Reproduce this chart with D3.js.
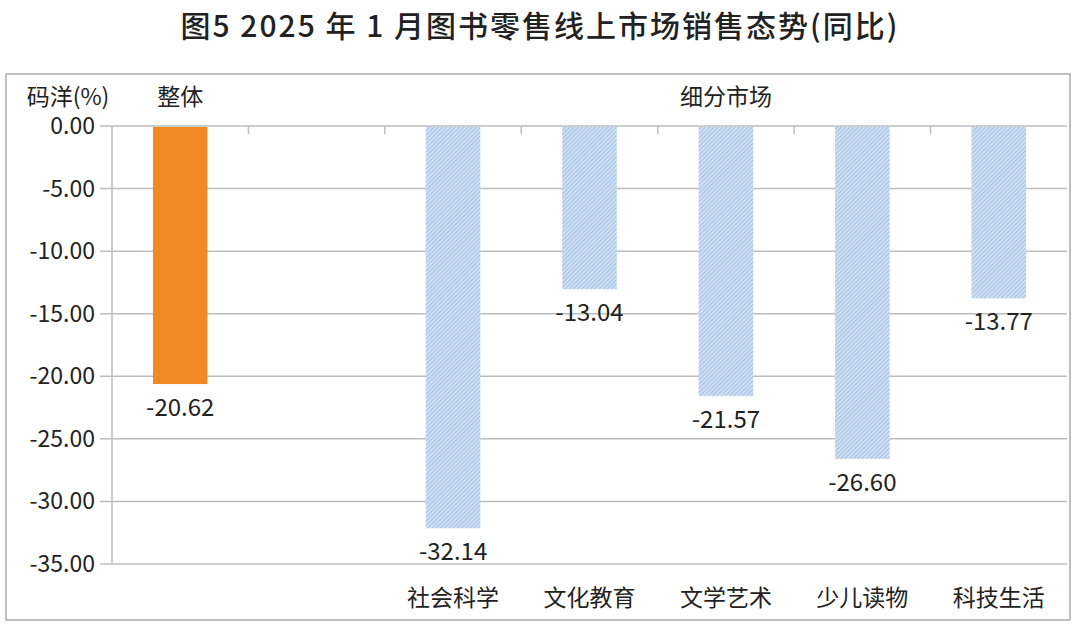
<!DOCTYPE html>
<html><head><meta charset="utf-8">
<script src="https://cdn.jsdelivr.net/npm/d3@7"></script>
<style>body{margin:0;background:#fff}text{font-family:"Noto Sans CJK SC","Noto Sans",sans-serif}</style>
</head><body><svg id="c" width="1080" height="628"></svg>
<script>
const categories = ["整体", "", "社会科学", "文化教育", "文学艺术", "少儿读物", "科技生活"];
const values = [-20.62, null, -32.14, -13.04, -21.57, -26.60, -13.77];
const yTicks = [0, -5, -10, -15, -20, -25, -30, -35];
const title = "图5  2025 年 1 月图书零售线上市场销售态势(同比)";

const svg = d3.select("#c");
const defs = svg.append("defs");
const pat = defs.append("pattern").attr("id","hatch").attr("patternUnits","userSpaceOnUse")
  .attr("width",3).attr("height",3).attr("patternTransform","rotate(45)");
pat.append("rect").attr("width",3).attr("height",3).attr("fill","#dbe7f5");
pat.append("rect").attr("width",1.6).attr("height",3).attr("fill","#a9c6e8");

svg.append("text").attr("x",540).attr("y",37).attr("text-anchor","middle")
  .attr("font-size",30).attr("font-weight",500).attr("letter-spacing",2).attr("fill","#222").text(title);
svg.append("rect").attr("x",6).attr("y",74).attr("width",1064).attr("height",546)
  .attr("fill","none").attr("stroke","#aaa").attr("stroke-width",1.5);

const x = d3.scaleBand().domain(d3.range(categories.length)).range([112,1067]).paddingInner(0.6).paddingOuter(0.3);
const y = d3.scaleLinear().domain([-35,0]).range([564,126]);

svg.append("g").selectAll("line").data(yTicks).join("line")
  .attr("x1",100).attr("x2",1067).attr("y1",d=>y(d)).attr("y2",d=>y(d))
  .attr("stroke","#bdbdbd").attr("stroke-width",1.5);
svg.append("line").attr("x1",112).attr("x2",112).attr("y1",y(0)).attr("y2",y(-35)).attr("stroke","#bdbdbd").attr("stroke-width",1.5);
svg.append("g").selectAll("text").data(yTicks).join("text")
  .attr("x",95).attr("y",d=>y(d)+8).attr("text-anchor","end").attr("font-size",23).attr("fill","#222")
  .text(d=>d.toFixed(2));
const step = x.step();
svg.append("g").selectAll("line").data(d3.range(1,categories.length)).join("line")
  .attr("x1",d=>x(d)-(step-x.bandwidth())/2).attr("x2",d=>x(d)-(step-x.bandwidth())/2)
  .attr("y1",y(0)).attr("y2",y(0)+8).attr("stroke","#bdbdbd").attr("stroke-width",1.5);

const data = values.map((v,i)=>({v,i})).filter(d=>d.v!==null);
svg.append("g").selectAll("rect").data(data).join("rect")
  .attr("x",d=>x(d.i)).attr("width",x.bandwidth())
  .attr("y",y(0)+1).attr("height",d=>y(d.v)-y(0)-1)
  .attr("fill",d=>d.i===0?"#f08a24":"url(#hatch)");
svg.append("g").selectAll("text").data(data).join("text")
  .attr("x",d=>x(d.i)+x.bandwidth()/2).attr("y",d=>y(d.v)+32).attr("text-anchor","middle")
  .attr("font-size",24).attr("fill","#222").text(d=>d.v.toFixed(2));
svg.append("g").selectAll("text").data(data.filter(d=>d.i>0)).join("text")
  .attr("x",d=>x(d.i)+x.bandwidth()/2).attr("y",606).attr("text-anchor","middle")
  .attr("font-size",23).attr("fill","#222").text(d=>categories[d.i]);
svg.append("text").attr("x",68).attr("y",105).attr("text-anchor","middle").attr("font-size",23).attr("fill","#222").text("码洋(%)");
svg.append("text").attr("x",x(0)+x.bandwidth()/2).attr("y",105).attr("text-anchor","middle").attr("font-size",23).attr("fill","#222").text(categories[0]);
svg.append("text").attr("x",(x(2)+x(6)+x.bandwidth())/2).attr("y",105).attr("text-anchor","middle").attr("font-size",23).attr("fill","#222").text("细分市场");
</script></body></html>
